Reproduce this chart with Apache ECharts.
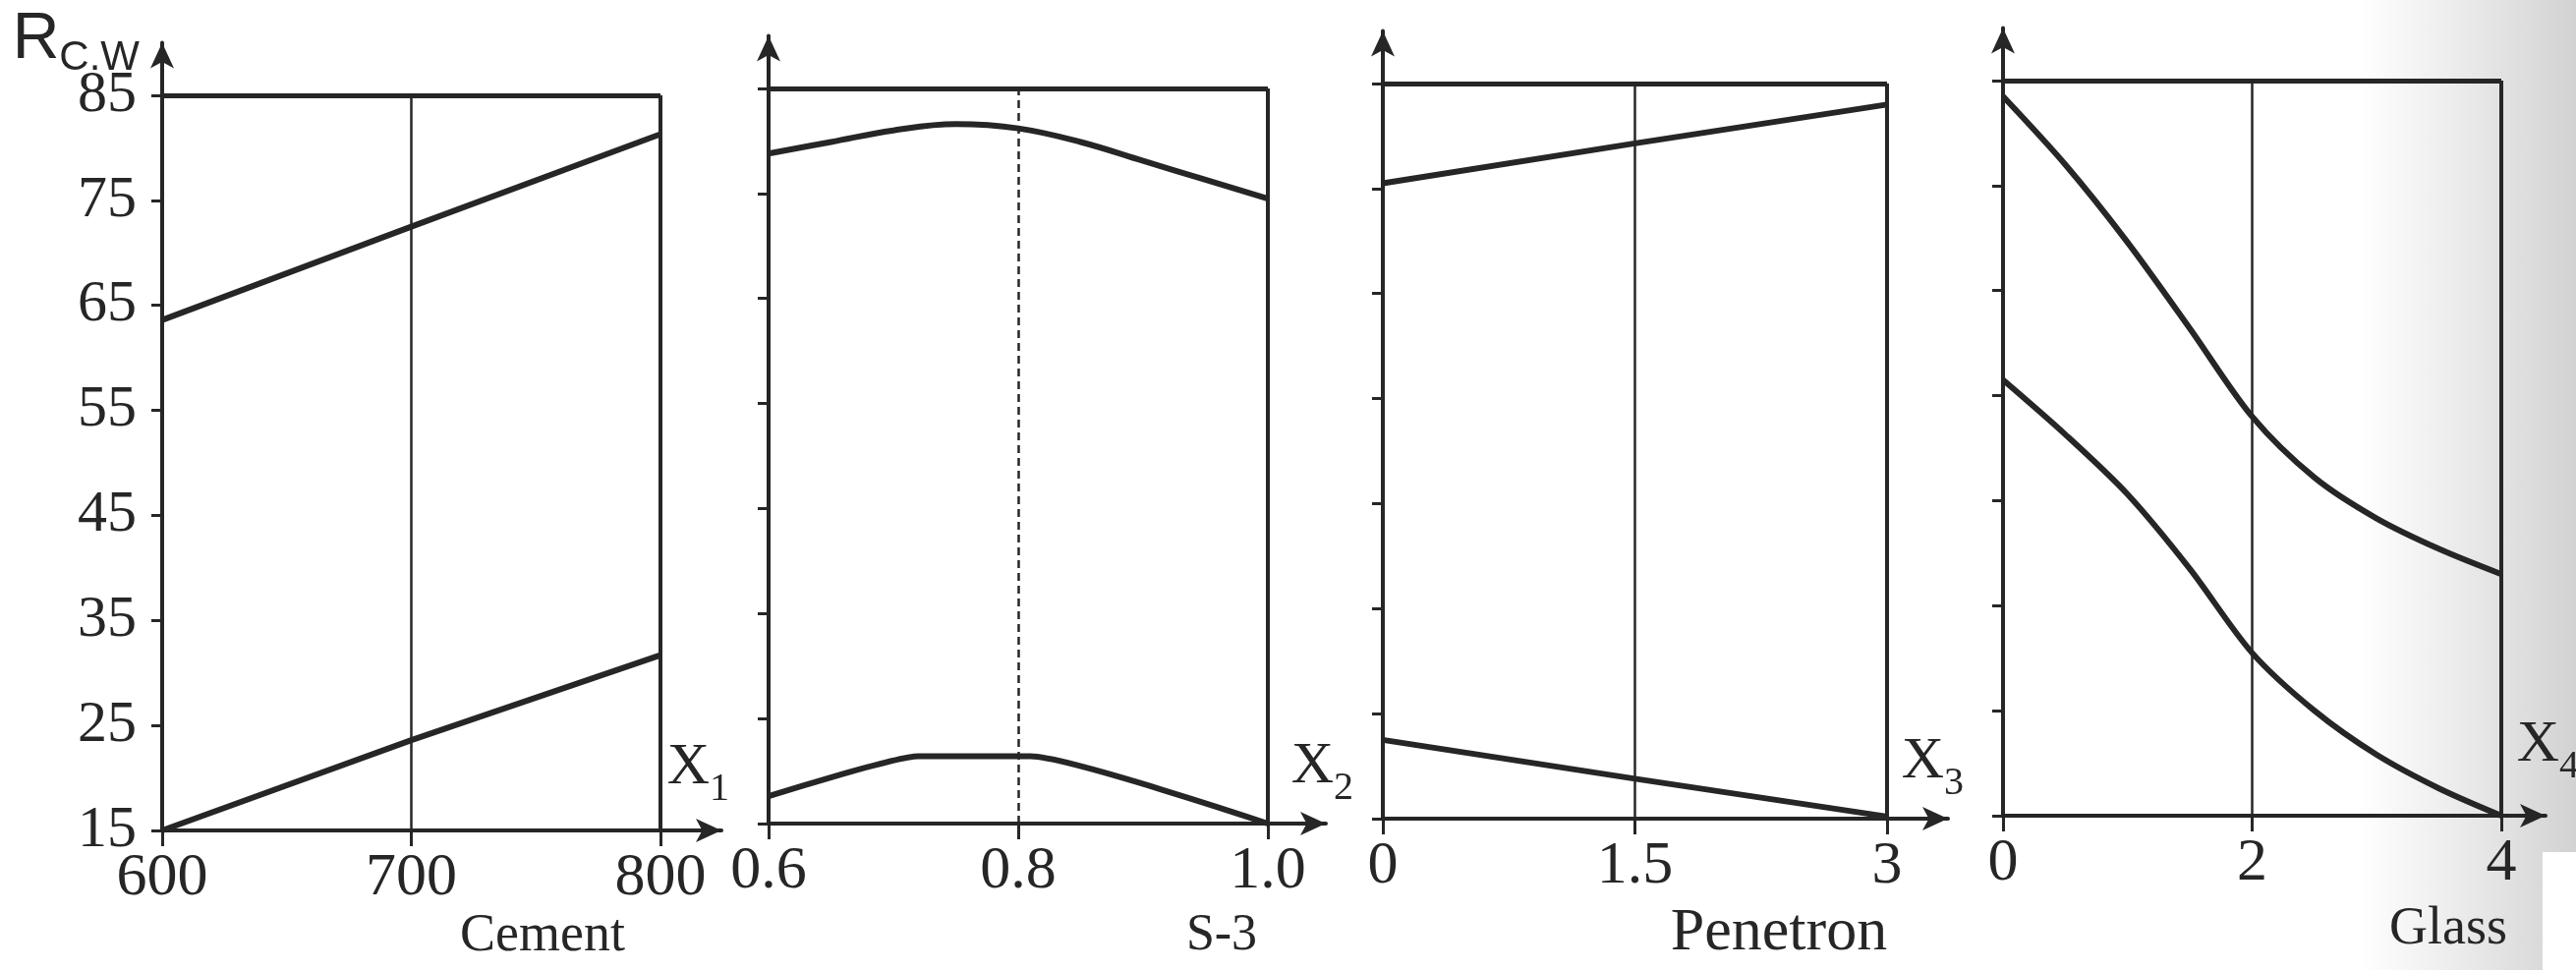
<!DOCTYPE html>
<html>
<head>
<meta charset="utf-8">
<script src="https://cdn.jsdelivr.net/npm/echarts@6.0.0/dist/echarts.min.js"></script>
<style>
  html, body { margin: 0; padding: 0; background: #fff; }
  #chart { width: 2621px; height: 987px; }
</style>
</head>
<body>
<div id="chart"></div>
<script>
// values
var yTicks = [15, 25, 35, 45, 55, 65, 75, 85];

var cementTicks = [600, 700, 800];
var cementLabels = ['600', '700', '800'];
var cementX = [600, 700, 800];
var cementUpper = [63.6, 72.5, 81.3];
var cementLower = [15.0, 23.6, 31.7];

var s3Ticks = [0.6, 0.8, 1.0];
var s3Labels = ['0.6', '0.8', '1.0'];
var s3X = [0.6, 0.65, 0.7, 0.75, 0.8, 0.85, 0.9, 0.95, 1.0];
var s3Upper = [78.8, 79.9, 81.0, 81.6, 81.2, 79.9, 78.1, 76.3, 74.5];
var s3LowerX = [0.6, 0.72, 0.81, 1.0];
var s3Lower = [17.6, 21.4, 21.4, 15.0];

var penTicks = [0, 1.5, 3];
var penLabels = ['0', '1.5', '3'];
var penX = [0, 1.5, 3];
var penUpper = [75.5, 79.3, 83.0];
var penLower = [22.5, 18.8, 15.2];

var glassTicks = [0, 2, 4];
var glassLabels = ['0', '2', '4'];
var glassX = [0, 0.5, 1, 1.5, 2, 2.5, 3, 3.5, 4];
var glassUpper = [83.5, 77.0, 69.6, 61.4, 53.0, 47.2, 43.3, 40.4, 38.0];
var glassLower = [56.5, 51.3, 45.6, 38.5, 30.5, 25.0, 20.8, 17.6, 15.0];

var ink = '#262626';
var serif = '"Liberation Serif", "DejaVu Serif", serif';
var sans = '"Liberation Sans", Arial, sans-serif';

// page layout of each small plot (pixels); the scan is slightly tilted
var panels = [
  { ticks: cementTicks, labels: cementLabels, sub: '1', title: 'Cement', titleX: 552, titleY: 953, titleSize: 54,
    axisX: 165, edgeX: 672, arrowX: 734, base: 845, nameGap: 8, nameLift: 22, midDash: 'solid',
    lines: [[cementX, cementUpper, false], [cementX, cementLower, false]], yLabels: true },
  { ticks: s3Ticks, labels: s3Labels, sub: '2', title: 'S-3', titleX: 1243, titleY: 952, titleSize: 52,
    axisX: 782, edgeX: 1290, arrowX: 1349, base: 838, nameGap: 28, nameLift: 16, midDash: [8, 5],
    lines: [[s3X, s3Upper, 0.4], [s3LowerX, s3Lower, 0.15]], yLabels: false },
  { ticks: penTicks, labels: penLabels, sub: '3', title: 'Penetron', titleX: 1810, titleY: 950, titleSize: 62,
    axisX: 1407, edgeX: 1920, arrowX: 1982, base: 833, nameGap: 16, nameLift: 16, midDash: 'solid',
    lines: [[penX, penUpper, false], [penX, penLower, false]], yLabels: false },
  { ticks: glassTicks, labels: glassLabels, sub: '4', title: 'Glass', titleX: 2491, titleY: 946, titleSize: 54,
    axisX: 2038, edgeX: 2545, arrowX: 2590, base: 830, nameGap: 34, nameLift: 30, midDash: 'solid',
    lines: [[glassX, glassUpper, 0.3], [glassX, glassLower, 0.3]], yLabels: false }
];

var yMin = yTicks[0];
var yTop = yTicks[yTicks.length - 1];
var yMax = 90;
var pxPerUnit = 748 / (yTop - yMin);

function pairs(xs, ys) {
  return xs.map(function (x, i) { return [x, ys[i]]; });
}

var grids = [], xAxes = [], yAxes = [], series = [], graphics = [];

// greyish scan edge on the right
graphics.push({
  type: 'rect', z: -10, silent: true,
  shape: { x: 2400, y: 0, width: 221, height: 987 },
  style: { fill: new echarts.graphic.LinearGradient(0, 0, 1, 0, [
    { offset: 0, color: 'rgba(200,200,200,0)' },
    { offset: 1, color: 'rgba(195,195,195,0.75)' }
  ]) }
});
graphics.push({
  type: 'rect', z: -9, silent: true,
  shape: { x: 2587, y: 867, width: 34, height: 120 },
  style: { fill: '#ffffff' }
});

// y axis title R(C.W) next to the first arrow
graphics.push({
  type: 'text', x: 142, y: 80, silent: true,
  style: {
    text: '{r|R}{s|C.W}', textAlign: 'right', textVerticalAlign: 'bottom',
    rich: {
      r: { fontSize: 66, fontFamily: sans, fill: ink, color: ink, padding: [0, 0, 6, 0] },
      s: { fontSize: 42, fontFamily: sans, fill: ink, color: ink, verticalAlign: 'bottom' }
    }
  }
});

panels.forEach(function (p, i) {
  var x0 = p.ticks[0], x1 = p.ticks[p.ticks.length - 1], mid = p.ticks[1];
  var xMax = x0 + (x1 - x0) * (p.arrowX - p.axisX) / (p.edgeX - p.axisX);
  var h = (yMax - yMin) * pxPerUnit;

  grids.push({
    left: p.axisX, top: p.base - h, width: p.arrowX - p.axisX, height: h,
    containLabel: false, outerBoundsMode: 'none'
  });

  xAxes.push({
    type: 'value', gridIndex: i, min: x0, max: xMax, position: 'bottom',
    name: '{x|X}{s|' + p.sub + '}',
    nameLocation: 'end', nameGap: p.nameGap,
    nameTextStyle: {
      align: 'right', verticalAlign: 'bottom', padding: [0, 0, p.nameLift, 0],
      rich: {
        x: { fontSize: 60, fontFamily: serif, color: ink, padding: [0, 0, 12, 0] },
        s: { fontSize: 40, fontFamily: serif, color: ink, verticalAlign: 'bottom' }
      }
    },
    axisLine: { show: true, symbol: ['none', 'arrow'], symbolSize: [18, 26],
      lineStyle: { color: ink, width: 4 } },
    axisTick: { show: true, inside: false, length: 16, customValues: p.ticks,
      lineStyle: { color: ink, width: 3 } },
    axisLabel: { show: true, customValues: p.ticks, margin: 18,
      fontSize: 62, fontFamily: serif, color: ink,
      formatter: function (v) {
        for (var k = 0; k < p.ticks.length; k++) {
          if (Math.abs(p.ticks[k] - v) < 1e-6) return p.labels[k];
        }
        return '';
      } },
    splitLine: { show: false }
  });

  yAxes.push({
    type: 'value', gridIndex: i, min: yMin, max: yMax,
    axisLine: { show: true, symbol: ['none', 'arrow'], symbolSize: [18, 26],
      lineStyle: { color: ink, width: 4 } },
    axisTick: { show: true, inside: false, length: 11, customValues: yTicks,
      lineStyle: { color: ink, width: 3 } },
    axisLabel: { show: p.yLabels, customValues: yTicks, margin: 26,
      fontSize: 60, fontFamily: serif, color: ink },
    splitLine: { show: false }
  });

  p.lines.forEach(function (ln, j) {
    var s = {
      type: 'line', xAxisIndex: i, yAxisIndex: i,
      data: pairs(ln[0], ln[1]),
      smooth: ln[2], symbol: 'none', animation: false, silent: true,
      lineStyle: { color: ink, width: 6 }, z: 3
    };
    if (j === 0) {
      // frame: top edge, right edge, middle gridline
      s.markLine = {
        silent: true, symbol: ['none', 'none'], animation: false,
        label: { show: false }, emphasis: { disabled: true },
        data: [
          [{ coord: [x0, yTop], lineStyle: { color: ink, width: 5, type: 'solid' } }, { coord: [x1, yTop] }],
          [{ coord: [x1, yMin], lineStyle: { color: ink, width: 4, type: 'solid' } }, { coord: [x1, yTop] }],
          [{ coord: [mid, yMin], lineStyle: { color: ink, width: 2.5, type: p.midDash } }, { coord: [mid, yTop] }]
        ]
      };
    }
    series.push(s);
  });

  graphics.push({
    type: 'text', x: p.titleX, y: p.titleY, silent: true,
    style: { text: p.title, font: p.titleSize + 'px ' + serif, fill: ink,
      textAlign: 'center', textVerticalAlign: 'middle' }
  });
});

var chart = echarts.init(document.getElementById('chart'), null, { renderer: 'canvas' });
chart.setOption({
  backgroundColor: '#ffffff',
  animation: false,
  grid: grids,
  xAxis: xAxes,
  yAxis: yAxes,
  series: series,
  graphic: graphics
});
</script>
</body>
</html>
